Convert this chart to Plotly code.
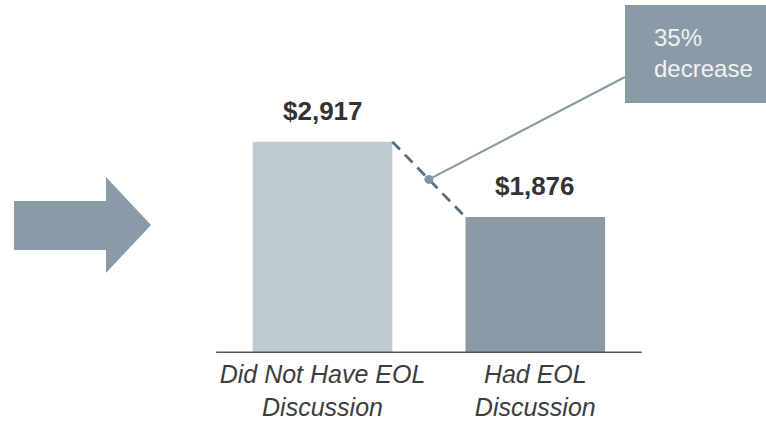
import plotly.graph_objects as go

# Average cost per patient by end-of-life discussion status
categories = ["Did Not Have EOL<br>Discussion", "Had EOL<br>Discussion"]
costs = [2917, 1876]
value_labels = ["$2,917", "$1,876"]
change_label = "35%<br>decrease"

bar_colors = ["#bfcad1", "#8a9ba7"]
accent = "#8a9ba8"

W, H = 766, 423
bar_width = 0.656
x_pos = list(range(len(categories)))
x_range = [-1.5155, 2.0841]
y_range = [0, 4873]

fig = go.Figure()

fig.add_trace(go.Bar(
    x=x_pos, y=costs, width=bar_width,
    marker=dict(color=bar_colors, line=dict(width=0)),
    hoverinfo="skip",
))

# dashed connector between the tops of the two bars
x_a = x_pos[0] + bar_width / 2
x_b = x_pos[1] - bar_width / 2
fig.add_trace(go.Scatter(
    x=[x_a, x_b], y=[costs[0], costs[1]], mode="lines",
    line=dict(color="#5a6e7e", width=2.8, dash="11px,7px"),
    hoverinfo="skip",
))
x_mid = (x_a + x_b) / 2
y_mid = (costs[0] + costs[1]) / 2
fig.add_trace(go.Scatter(
    x=[x_mid], y=[y_mid], mode="markers",
    marker=dict(color="#7f93a1", size=9),
    hoverinfo="skip",
))

# value labels above bars
for xp, v, lab in zip(x_pos, costs, value_labels):
    fig.add_annotation(
        x=xp, y=v, text=lab, showarrow=False, yanchor="middle", yshift=31,
        font=dict(family="Liberation Sans, Arial", size=26, color="#333333", weight="bold"),
    )

# callout box and leader line (paper coordinates)
bottom_px = 353
def px(xp):
    return xp / W
def py(yp):
    return (bottom_px - yp) / bottom_px

mid_xp = (x_mid - x_range[0]) / (x_range[1] - x_range[0])
mid_yp = y_mid / y_range[1]

fig.add_shape(type="line", xref="paper", yref="paper",
              x0=mid_xp, y0=mid_yp, x1=px(625), y1=py(77),
              line=dict(color=accent, width=2.2))
fig.add_shape(type="rect", xref="paper", yref="paper",
              x0=px(625), y0=py(103), x1=px(800), y1=py(5),
              fillcolor=accent, line=dict(width=0), layer="above")
fig.add_annotation(
    xref="paper", yref="paper", x=px(652), y=py(53), xanchor="left", yanchor="middle",
    text=change_label, showarrow=False, align="left",
    font=dict(family="Liberation Sans, Arial", size=24, color="#f2f2f2"),
)

# block arrow on the left
arrow_pts = [(14, 201), (106, 201), (106, 177), (151, 225), (106, 273), (106, 250), (14, 250)]
path = "M " + " L ".join(f"{px(a):.5f},{py(b):.5f}" for a, b in arrow_pts) + " Z"
fig.add_shape(type="path", xref="paper", yref="paper", path=path,
              fillcolor=accent, line=dict(width=0))

# baseline under the bars
fig.add_shape(type="line", xref="x", yref="y", x0=-0.5, x1=1.5, y0=0, y1=0,
              line=dict(color="#555555", width=3), layer="above")

fig.update_layout(
    width=W, height=H,
    margin=dict(l=0, r=0, t=0, b=H - bottom_px),
    paper_bgcolor="white", plot_bgcolor="white",
    showlegend=False,
    xaxis=dict(
        range=x_range, tickvals=x_pos, ticktext=categories,
        showgrid=False, zeroline=False, showline=False, automargin=False,
        ticks="", ticklabelstandoff=4,
        tickfont=dict(family="Liberation Sans, Arial", size=25, color="#3c3c3c", style="italic"),
        fixedrange=True,
    ),
    yaxis=dict(range=y_range, visible=False, fixedrange=True, automargin=False),
)

fig.write_html("out.html")
